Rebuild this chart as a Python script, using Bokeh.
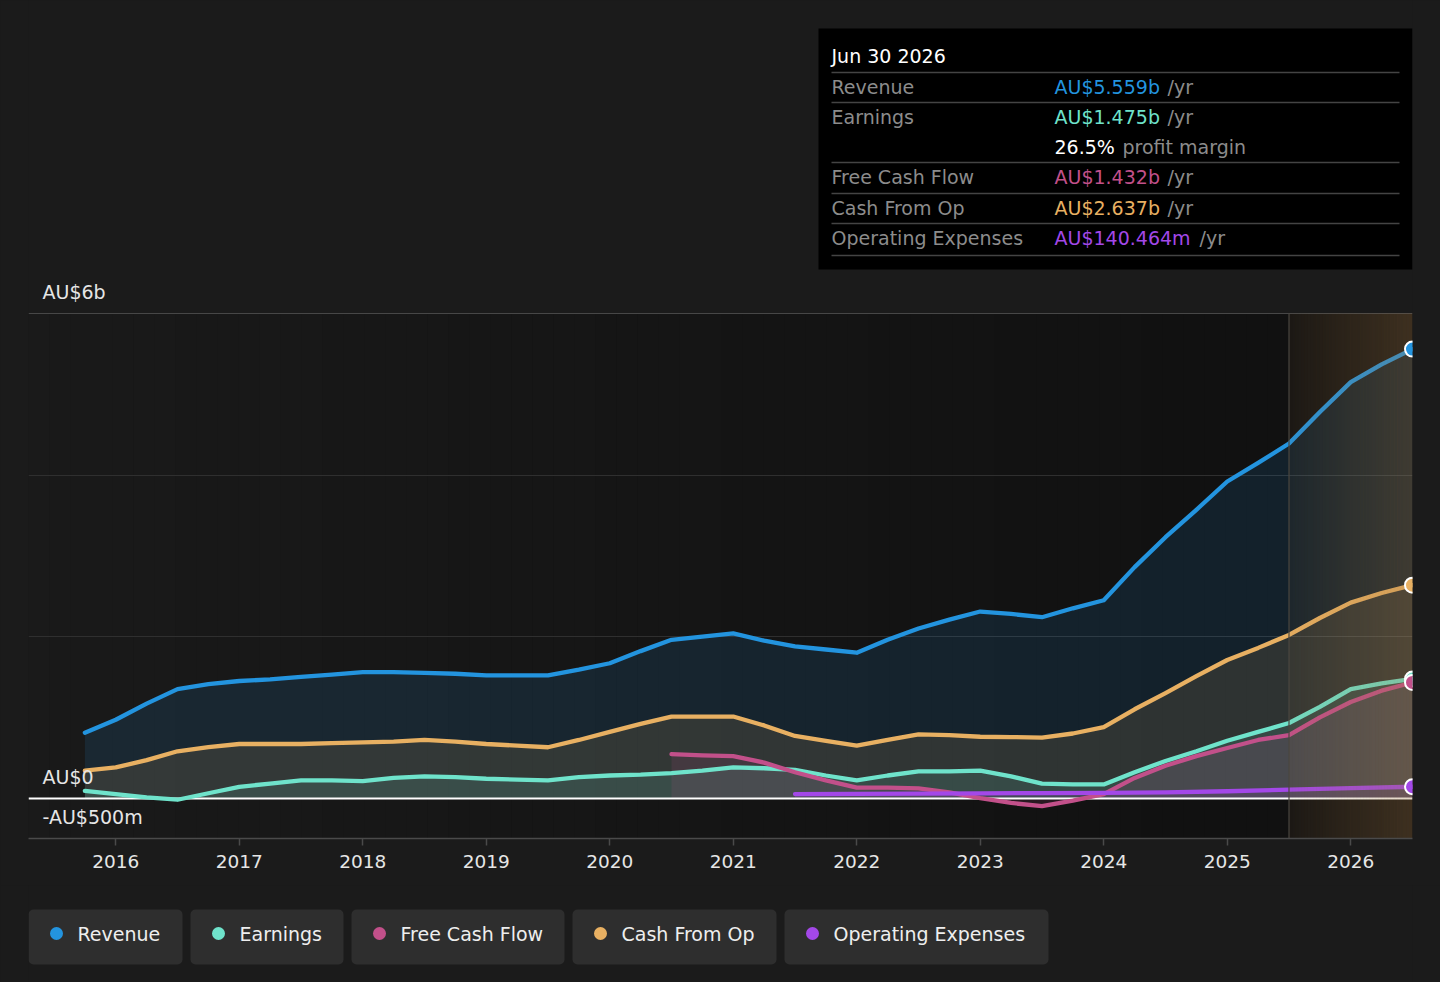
import numpy as np
from bokeh.plotting import figure
from bokeh.models import Range1d, FixedTicker, BoxAnnotation
from bokeh.layouts import column
from bokeh.embed import file_html
from bokeh.resources import INLINE
from bokeh.core.properties import value

# ---------------- data (AU$ billions, trailing twelve months) ----------------
periods = [2015.75, 2016.0, 2016.25, 2016.5, 2016.75, 2017.0, 2017.25, 2017.5, 2017.75,
           2018.0, 2018.25, 2018.5, 2018.75, 2019.0, 2019.25, 2019.5, 2019.75,
           2020.0, 2020.25, 2020.5, 2020.75, 2021.0, 2021.25, 2021.5, 2021.75,
           2022.0, 2022.25, 2022.5, 2022.75, 2023.0, 2023.25, 2023.5, 2023.75,
           2024.0, 2024.25, 2024.5, 2024.75, 2025.0, 2025.25, 2025.5, 2025.75,
           2026.0, 2026.25, 2026.5]
revenue = [0.81, 0.97, 1.17, 1.35, 1.41, 1.45, 1.47, 1.50, 1.53, 1.56, 1.56, 1.55, 1.54,
           1.52, 1.52, 1.52, 1.59, 1.67, 1.82, 1.96, 2.00, 2.04, 1.95, 1.88, 1.84, 1.80,
           1.96, 2.10, 2.21, 2.31, 2.28, 2.24, 2.35, 2.45, 2.86, 3.23, 3.57, 3.92, 4.15,
           4.39, 4.78, 5.15, 5.37, 5.559]
cash_from_op = [0.34, 0.38, 0.47, 0.58, 0.63, 0.67, 0.67, 0.67, 0.68, 0.69, 0.70, 0.72,
                0.70, 0.67, 0.65, 0.63, 0.72, 0.82, 0.92, 1.01, 1.01, 1.01, 0.90, 0.77,
                0.71, 0.65, 0.72, 0.79, 0.78, 0.76, 0.755, 0.75, 0.80, 0.88, 1.10, 1.30,
                1.51, 1.71, 1.86, 2.02, 2.23, 2.42, 2.54, 2.637]
earnings = [0.09, 0.05, 0.01, -0.02, 0.06, 0.14, 0.18, 0.22, 0.22, 0.21, 0.25, 0.27, 0.26,
            0.24, 0.23, 0.22, 0.26, 0.28, 0.29, 0.31, 0.34, 0.38, 0.37, 0.35, 0.28, 0.22,
            0.28, 0.33, 0.33, 0.34, 0.27, 0.18, 0.17, 0.17, 0.32, 0.46, 0.58, 0.71, 0.82,
            0.93, 1.13, 1.35, 1.42, 1.475]
fcf_periods = [2020.5, 2020.75, 2021.0, 2021.25, 2021.5, 2021.75, 2022.0, 2022.25, 2022.5,
               2022.75, 2023.0, 2023.25, 2023.5, 2023.75, 2024.0, 2024.25, 2024.5, 2024.75,
               2025.0, 2025.25, 2025.5, 2025.75, 2026.0, 2026.25, 2026.5]
free_cash_flow = [0.545, 0.53, 0.52, 0.44, 0.32, 0.22, 0.13, 0.13, 0.12, 0.07, 0.00, -0.06,
                  -0.10, -0.03, 0.05, 0.25, 0.40, 0.52, 0.62, 0.72, 0.78, 1.00, 1.19, 1.33,
                  1.432]
opex_periods = [2021.5, 2022.0, 2022.5, 2023.0, 2023.5, 2024.0, 2024.5, 2025.0, 2025.5,
                2026.0, 2026.5]
operating_expenses = [0.050, 0.053, 0.056, 0.059, 0.062, 0.066, 0.072, 0.085, 0.105,
                      0.124, 0.1405]

series_names = ["Revenue", "Earnings", "Free Cash Flow", "Cash From Op", "Operating Expenses"]
series_colors = ["#2394df", "#6fe3cb", "#c2508a", "#e8b062", "#a348e8"]

year_ticks = [2016, 2017, 2018, 2019, 2020, 2021, 2022, 2023, 2024, 2025, 2026]
year_labels = ["2016", "2017", "2018", "2019", "2020", "2021", "2022", "2023", "2024", "2025", "2026"]
ytick_values = [6, 0, -0.5]
ytick_labels = ["AU$6b", "AU$0", "-AU$500m"]
grid_values = [2, 4, 6]
forecast_start = 2025.5

tip_title = "Jun 30 2026"
tip_labels = ["Revenue", "Earnings", "", "Free Cash Flow", "Cash From Op", "Operating Expenses"]
tip_values = ["AU$5.559b", "AU$1.475b", "26.5%", "AU$1.432b", "AU$2.637b", "AU$140.464m"]
tip_suffix = ["/yr", "/yr", "profit margin", "/yr", "/yr", "/yr"]
tip_value_colors = ["#2394df", "#6fe3cb", "#ffffff", "#c2508a", "#e8b062", "#a348e8"]

# ---------------- layout helpers (page pixel -> data) ----------------
FONT = "DejaVu Sans"
PX_PER_YEAR = 123.5
X_END = 2026.5
PXB = 525.0 / 6.5          # pixels per AU$1b


def tx(px):
    return X_END - (1412 - px) / PX_PER_YEAR


def ty(py):
    return -0.5 + (838 - py) / PXB


BG = "#1b1b1b"
W = 1440
H_MAIN = 885
H_LEG = 97

p = figure(width=W, height=H_MAIN, output_backend="svg", toolbar_location=None,
           x_range=Range1d(tx(28), X_END), y_range=Range1d(-0.5, ty(0)),
           x_axis_location="below", y_axis_location=None,
           min_border_left=28, min_border_right=28, min_border_top=0, min_border_bottom=47,
           background_fill_color=BG, border_fill_color=BG, outline_line_color=None,
           styles={"background-color": BG})
p.grid.visible = False

# plot-area background: soft gradient to the forecast zone
n_bg = 60
edges = np.linspace(tx(28), forecast_start, n_bg + 1)
shade = np.linspace(26, 17, n_bg).astype(int)
p.quad(left=edges[:-1], right=edges[1:] + 0.002, bottom=-0.5, top=6,
       fill_color=["#%02x%02x%02x" % (s, s, s) for s in shade], line_color=None, level="image")
p.quad(left=forecast_start, right=X_END, bottom=-0.5, top=6, fill_color="#111111",
       line_color=None, level="image")

# gridlines
p.hspan(y=grid_values[:2], line_color="#2f2f2f", line_width=1, level="underlay")
p.hspan(y=grid_values[2:], line_color="#474747", line_width=1, level="underlay")

# area fills
p.varea(x=periods, y1=0, y2=revenue, fill_color=series_colors[0], fill_alpha=0.13)
p.varea(x=periods, y1=0, y2=cash_from_op, fill_color=series_colors[3], fill_alpha=0.13)
p.varea(x=periods, y1=0, y2=earnings, fill_color=series_colors[1], fill_alpha=0.13)
p.varea(x=fcf_periods, y1=0, y2=free_cash_flow, fill_color=series_colors[2], fill_alpha=0.13)
p.varea(x=opex_periods, y1=0, y2=operating_expenses, fill_color=series_colors[4], fill_alpha=0.13)

# zero line
p.hspan(y=[0], line_color="#ffffff", line_width=2)

# lines
lw = 4.3
p.line(periods, revenue, line_color=series_colors[0], line_width=lw, line_join="round", line_cap="round")
p.line(periods, cash_from_op, line_color=series_colors[3], line_width=lw, line_join="round", line_cap="round")
p.line(periods, earnings, line_color=series_colors[1], line_width=lw, line_join="round", line_cap="round")
p.line(fcf_periods, free_cash_flow, line_color=series_colors[2], line_width=lw, line_join="round", line_cap="round")
p.line(opex_periods, operating_expenses, line_color=series_colors[4], line_width=lw, line_join="round", line_cap="round")

# forecast zone overlay
n_fc = 40
fe = np.linspace(forecast_start, X_END, n_fc + 1)
p.quad(left=fe[:-1], right=fe[1:] + 0.001, bottom=-0.5, top=6, fill_color="#a47843",
       fill_alpha=np.linspace(0.08, 0.30, n_fc), line_color=None)
p.segment(x0=[forecast_start], x1=[forecast_start], y0=[-0.5], y1=[6],
          line_color="#4a4740", line_width=1.2)

# end markers
last_vals = [revenue[-1], cash_from_op[-1], earnings[-1], free_cash_flow[-1], operating_expenses[-1]]
last_cols = [series_colors[0], series_colors[3], series_colors[1], series_colors[2], series_colors[4]]
p.scatter(x=[periods[-1]] * 5, y=last_vals, size=15, fill_color=last_cols,
          line_color="#ffffff", line_width=2)

# y labels (inside the plot, above their lines)
p.text(x=[tx(42)] * 3, y=[v + 21.5 / PXB for v in ytick_values], text=ytick_labels,
       text_color="#e6e6e6", text_font=value(FONT), text_font_size="19px",
       text_baseline="middle", text_align="left")

# x axis
ax = p.xaxis[0]
ax.ticker = FixedTicker(ticks=year_ticks)
ax.major_label_overrides = {t: l for t, l in zip(year_ticks, year_labels)}
ax.axis_line_color = "#4a4a4a"
ax.axis_line_width = 1.5
ax.major_tick_line_color = "#4a4a4a"
ax.major_tick_line_width = 1.5
ax.major_tick_out = 7
ax.major_tick_in = 0
ax.minor_tick_line_color = None
ax.major_label_standoff = 9
ax.major_label_text_color = "#e6e6e6"
ax.major_label_text_font = FONT
ax.major_label_text_font_size = "18.5px"

# tooltip panel
p.quad(left=[tx(818)], right=[X_END], bottom=[ty(269)], top=[ty(28)],
       fill_color="#000000", line_color=None)
row_lines = [72, 102, 162, 193, 223, 255]
p.segment(x0=[tx(831)] * 6, x1=[tx(1399)] * 6, y0=[ty(r) for r in row_lines],
          y1=[ty(r) for r in row_lines], line_color="#444444", line_width=1.3)
p.text(x=[tx(831)], y=[ty(55)], text=[tip_title], text_color="#ffffff",
       text_font=value(FONT), text_font_size="19px", text_baseline="middle")
row_y = [86, 116, 146, 176, 207, 237]
p.text(x=[tx(831)] * 6, y=[ty(r) for r in row_y], text=tip_labels, text_color="#8c8c8c",
       text_font=value(FONT), text_font_size="19px", text_baseline="middle")
p.text(x=[tx(1054)] * 6, y=[ty(r) for r in row_y], text=tip_values, text_color=tip_value_colors,
       text_font=value(FONT), text_font_size="19px", text_baseline="middle")
suffix_px = [1167, 1167, 1122, 1167, 1167, 1199]
p.text(x=[tx(s) for s in suffix_px], y=[ty(r) for r in row_y], text=tip_suffix,
       text_color="#8c8c8c", text_font=value(FONT), text_font_size="19px", text_baseline="middle")

# ---------------- legend strip (frame aligned with the chart: page x 28..1412) ----------------
leg = figure(width=W, height=H_LEG, output_backend="svg", toolbar_location=None,
             x_range=Range1d(28, 1412), y_range=Range1d(-(H_MAIN + H_LEG), -H_MAIN),
             x_axis_location=None, y_axis_location=None, min_border=0,
             min_border_left=28, min_border_right=28,
             background_fill_color=BG, border_fill_color=BG, outline_line_color=None,
             styles={"background-color": BG})
leg.grid.visible = False
box_left = [28, 190, 351, 572, 784]
box_right = [182, 343, 564, 776, 1048]
for l, r in zip(box_left, box_right):
    leg.add_layout(BoxAnnotation(left=l, right=r, top=-909, bottom=-964, fill_color="#2e2e2e",
                                 fill_alpha=1, line_color=None, border_radius=5,
                                 level="underlay"))
leg.scatter(x=[b + 28 for b in box_left], y=[-933] * 5, size=13, fill_color=series_colors,
            line_color=None)
leg.text(x=[b + 49 for b in box_left], y=[-933] * 5, text=series_names, text_color="#eeeeee",
         text_font=value(FONT), text_font_size="19px", text_baseline="middle")

layout = column(p, leg, spacing=0, styles={"background-color": BG})
open("out.html", "w").write(file_html(layout, INLINE))
